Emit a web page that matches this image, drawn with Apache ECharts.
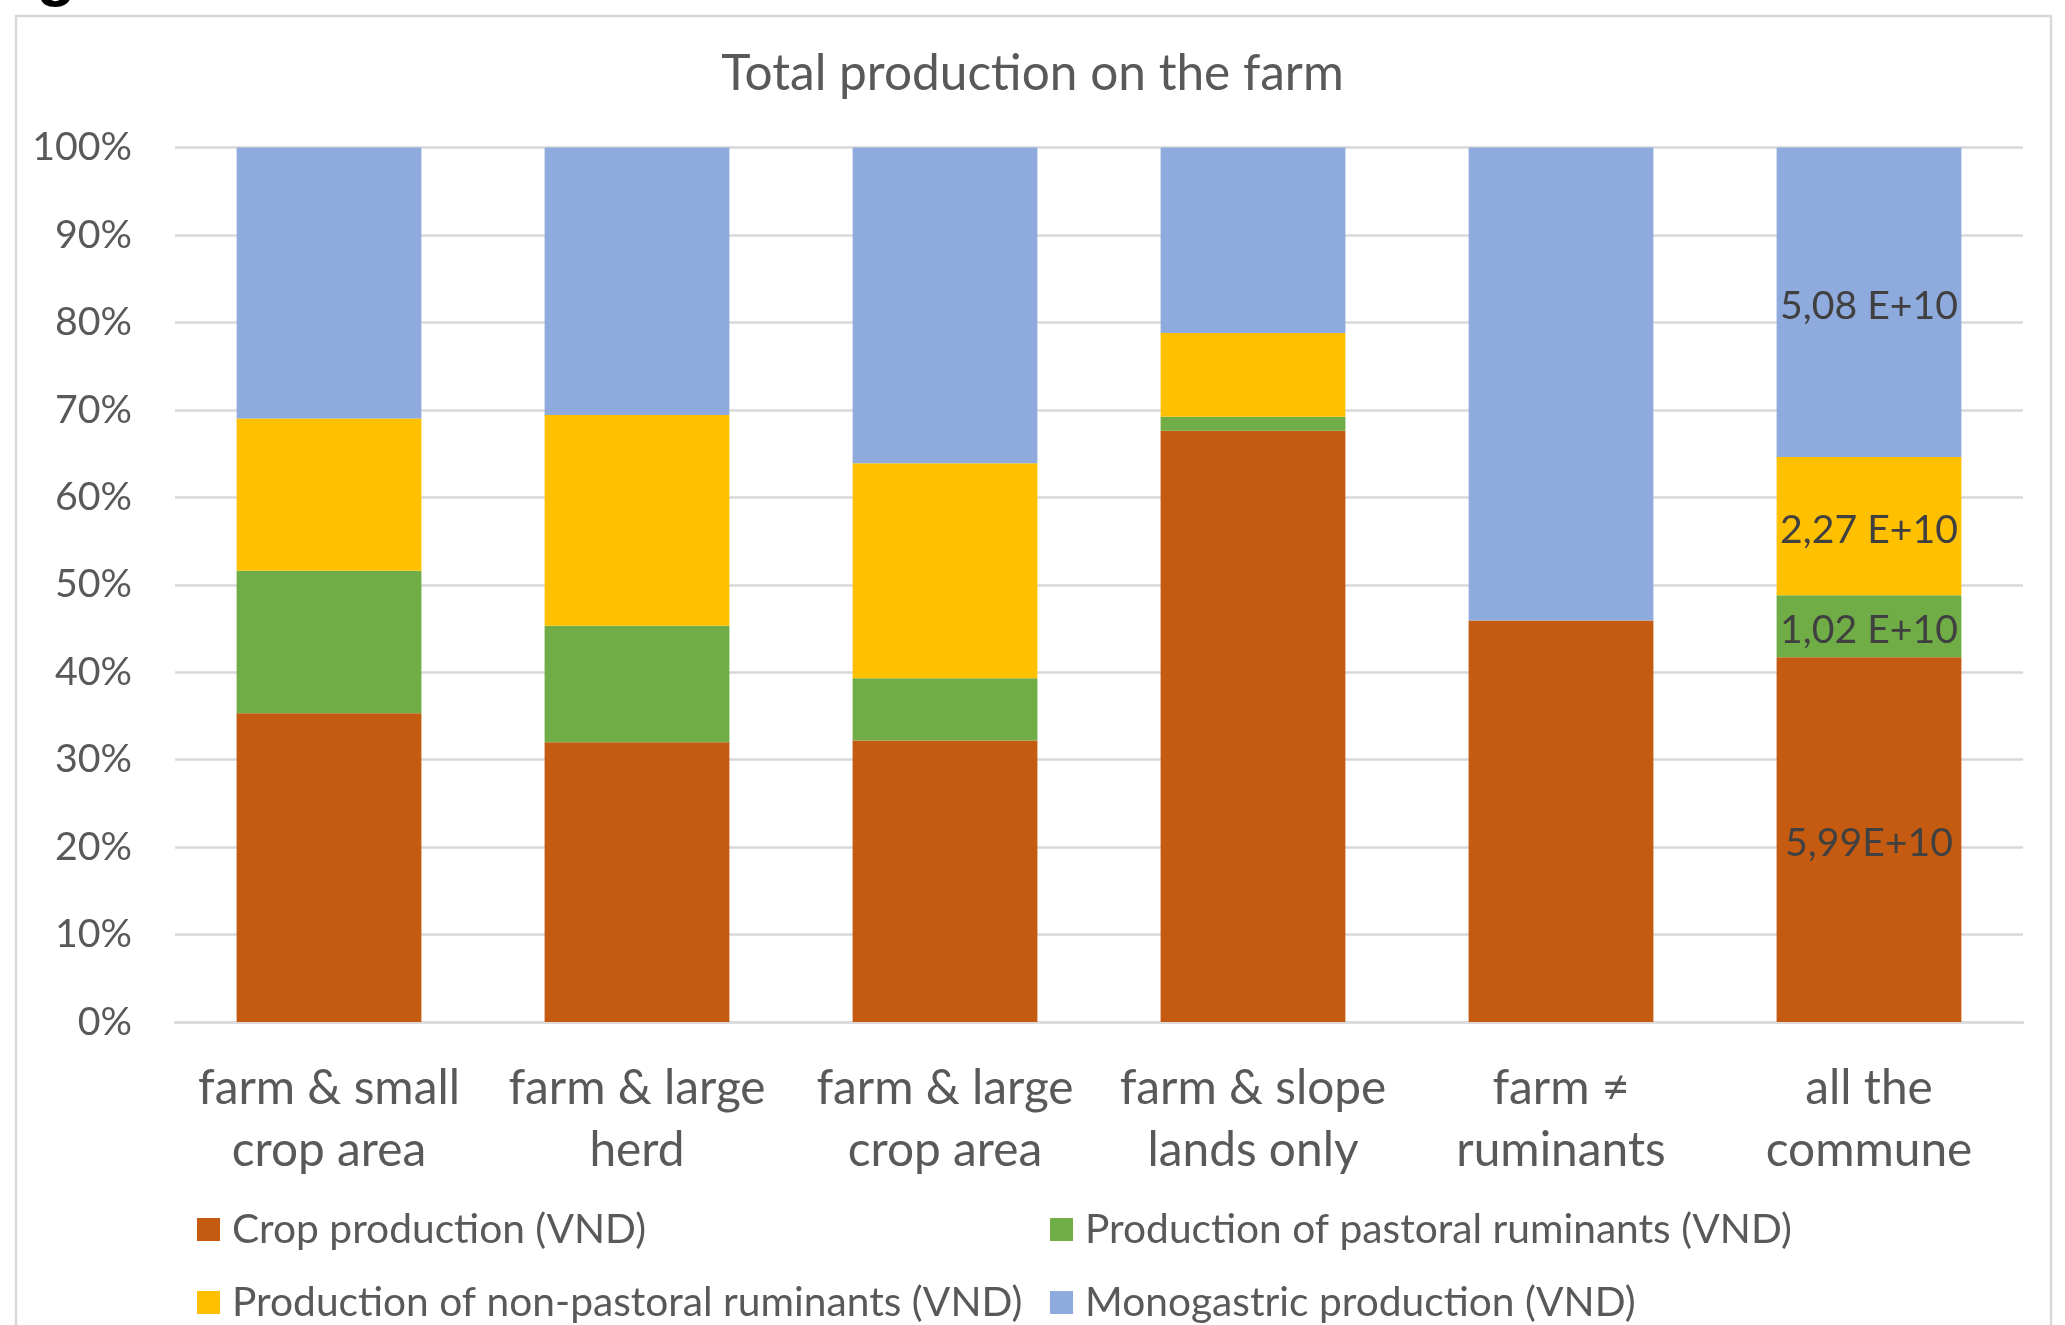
<!DOCTYPE html>
<html><head><meta charset="utf-8">
<script src="https://cdn.jsdelivr.net/npm/echarts@6/dist/echarts.min.js"></script>
<style>html,body{margin:0;padding:0;background:#fff}#c{width:2065px;height:1325px}</style>
</head><body><div id="c"></div>
<script>
// ---- data ----
const categories = ['farm & small\ncrop area', 'farm & large\nherd', 'farm & large\ncrop area', 'farm & slope\nlands only', 'farm \u2260\nruminants', 'all the\ncommune'];
const seriesNames = ['Crop production (VND)', 'Production of pastoral ruminants (VND)', 'Production of non-pastoral ruminants (VND)', 'Monogastric production (VND)'];
const cropShare = [35.3, 32.0, 32.2, 67.6, 45.9, 41.7];
const pastoralShare = [16.3, 13.3, 7.1, 1.6, 0, 7.1];
const nonPastoralShare = [17.4, 24.1, 24.6, 9.6, 0, 15.8];
const monogastricShare = [31.0, 30.6, 36.1, 21.2, 54.1, 35.4];
const communeLabels = ['5,99E+10', '1,02 E+10', '2,27 E+10', '5,08 E+10'];
const titleText = 'Total production on the farm';

// ---- styling ----
const FONT = 'Lato';
const colors = ['#C55A11', '#70AD47', '#FFC000', '#8FAADC'];
const ctx = document.createElement('canvas').getContext('2d');
function fit(text, target) {
  ctx.font = 'normal 100px ' + FONT;
  return Math.round(1000 * target / ctx.measureText(text).width) / 10;
}
const titleFs = fit(titleText, 623);
const yFs = fit('100%', 100);
const xFs = fit('farm & small', 262);
const legFs = fit('Crop production (VND)', 414);
const lblFs = fit('5,08 E+10', 178);

const shares = [cropShare, pastoralShare, nonPastoralShare, monogastricShare];
const chart = echarts.init(document.getElementById('c'), null, {renderer: 'canvas'});

const legendPos = [
  {left: 197, top: 1209},
  {left: 1050, top: 1209},
  {left: 197, top: 1282},
  {left: 1050, top: 1282}
];

chart.setOption({
  animation: false,
  backgroundColor: '#ffffff',
  textStyle: {fontFamily: FONT},
  title: {
    text: titleText, left: 'center', top: Math.round(74 - titleFs / 2), padding: 0,
    textStyle: {fontFamily: FONT, fontSize: titleFs, lineHeight: titleFs, fontWeight: 'normal', color: '#595959'}
  },
  graphic: [
    {type: 'rect', shape: {x: 16, y: 16, width: 2035, height: 1400}, style: {fill: 'none', stroke: '#d9d9d9', lineWidth: 2.5}, silent: true},
    {type: 'text', x: 56, y: -24, style: {text: 'g', fontFamily: 'Liberation Sans', fontWeight: 'bold', fontSize: 64, fill: '#000', align: 'center', verticalAlign: 'middle'}, silent: true}
  ],
  legend: seriesNames.map((n, i) => ({
    data: [n], left: legendPos[i].left, top: legendPos[i].top, padding: 0,
    itemWidth: 23, itemHeight: 23, icon: 'rect',
    textStyle: {fontFamily: FONT, fontSize: legFs, color: '#595959', padding: [0, 0, 0, 7]}
  })),
  grid: {left: 175, right: 42, top: 147.5, bottom: 303, containLabel: false},
  xAxis: {
    type: 'category', data: categories,
    axisTick: {show: false},
    axisLine: {lineStyle: {color: '#d9d9d9', width: 2.5}},
    axisLabel: {interval: 0, fontFamily: FONT, fontSize: xFs, lineHeight: 62, margin: 36, color: '#595959'}
  },
  yAxis: {
    type: 'value', min: 0, max: 100, interval: 10,
    axisLine: {show: false}, axisTick: {show: false},
    splitLine: {lineStyle: {color: '#d9d9d9', width: 2.5}},
    axisLabel: {formatter: '{value}%', fontFamily: FONT, fontSize: yFs, margin: 43, color: '#595959', padding: [5, 0, 0, 0]}
  },
  series: seriesNames.map((n, si) => ({
    name: n, type: 'bar', stack: 'total', barCategoryGap: '40%',
    data: shares[si],
    itemStyle: {color: colors[si]},
    label: {
      show: true, position: 'inside', offset: [0, 4], fontFamily: FONT, fontSize: lblFs, color: '#404040',
      formatter: p => (p.dataIndex === 5 ? communeLabels[si] : '')
    }
  }))
});
</script></body></html>
